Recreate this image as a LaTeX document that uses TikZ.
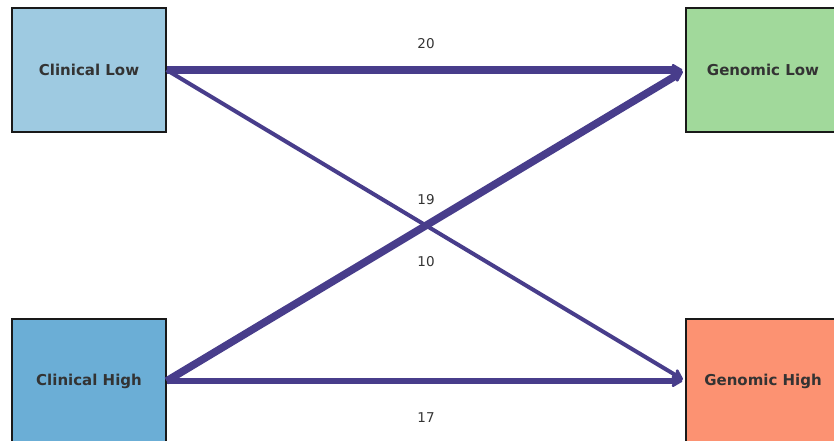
\documentclass[tikz,border=0pt]{standalone}
\usepackage{fontspec}
\setmainfont{DejaVu Sans}
\usetikzlibrary{arrows.meta}
\definecolor{edgec}{HTML}{483D8B}
\definecolor{txtc}{HTML}{333333}
\definecolor{clow}{HTML}{9ECAE1}
\definecolor{chigh}{HTML}{6BAED6}
\definecolor{glow}{HTML}{A1D99B}
\definecolor{ghigh}{HTML}{FC9272}
\tikzset{
  box/.style={draw=black!90, line width=1.2pt, minimum width=154pt, minimum height=124pt, inner sep=0pt,
    font=\fontsize{15}{18}\selectfont\bfseries, text=txtc},
  flow/.style={draw=edgec, -{Stealth[length=13pt,width=15pt,round,inset=3pt]}, shorten >=3pt},
  lbl/.style={font=\fontsize{13.5}{16}\selectfont, text=txtc}
}
\begin{document}
\begin{tikzpicture}[x=1pt,y=-1pt]
\useasboundingbox (0,0) rectangle (834,441);
\node[box, fill=clow] (cl) at (89,70) {Clinical Low};
\node[box, fill=chigh] (ch) at (89,381) {Clinical High};
\node[box, fill=glow] (gl) at (763,70) {Genomic Low};
\node[box, fill=ghigh] (gh) at (763,381) {Genomic High};
\draw[flow, line width=8pt] (cl.east) -- (gl.west);
\draw[flow, line width=4pt] (cl.east) -- (gh.west);
\draw[flow, line width=7.6pt] (ch.east) -- (gl.west);
\draw[flow, line width=6.8pt] (ch.east) -- (gh.west);
\node[lbl] (l20) at (426,44) {20};
\node[lbl] (l19) at (426,200) {19};
\node[lbl] (l10) at (426,262) {10};
\node[lbl] (l17) at (426,418) {17};
\end{tikzpicture}
\end{document}
